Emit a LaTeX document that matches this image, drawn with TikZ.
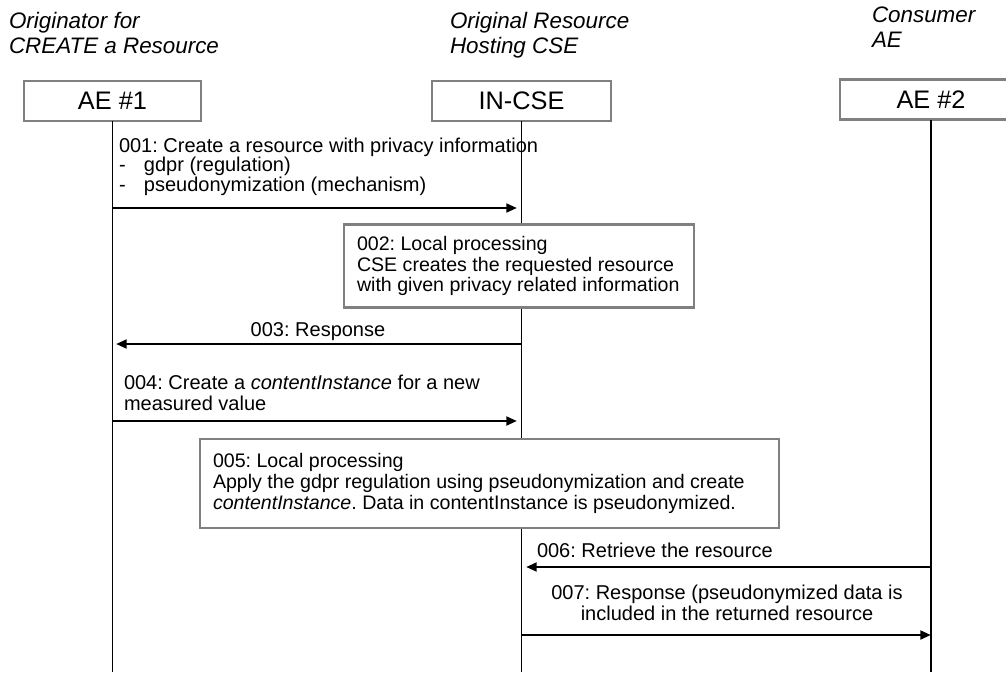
\documentclass[tikz,border=0pt]{standalone}
\usepackage{fontspec}
\setmainfont{Liberation Sans}
\usetikzlibrary{arrows.meta}
\definecolor{framegray}{RGB}{128,128,128}
\frenchspacing
\begin{document}
\begin{tikzpicture}[x=0.75pt,y=-0.75pt,
  every node/.style={inner sep=0pt, outer sep=0pt},
  role/.style={font=\fontsize{16.8}{18.75}\selectfont\itshape, align=left, anchor=base west},
  entity/.style={draw=framegray, line width=1.9pt, fill=white, minimum height=30pt,
    font=\fontsize{19}{22}\selectfont},
  lifeline/.style={draw=black, line width=0.8pt},
  msg/.style={draw=black, line width=2pt, -{Triangle[length=8pt,width=6.5pt]}},
  msgtext/.style={font=\fontsize{15}{15.4}\selectfont, align=left, anchor=base west},
  notebox/.style={draw=framegray, line width=1.9pt, fill=white},
  notetext/.style={font=\fontsize{14.7}{15.6}\selectfont, align=left, anchor=west}
]
\useasboundingbox (0,0) rectangle (1006,672);

% role captions above the participants (anchored at the last baseline)
\node[role] (capA) at (9,53) {Originator for\\CREATE a Resource};
\node[role] (capB) at (450,53) {Original Resource\\Hosting CSE};
\node[role] (capC) at (872,47) {Consumer\\AE};

% participants
\node[entity, minimum width=132.75pt] (ae1) at (112.5,101) {AE \#1};
\node[entity, minimum width=134.25pt] (cse) at (521.5,101) {IN-CSE};
\node[entity, minimum width=136.5pt] (ae2) at (931,99.5) {AE \#2};

% lifelines
\coordinate (ae1end) at (ae1.south |- 0,672);
\coordinate (cseend) at (cse.south |- 0,672);
\coordinate (ae2end) at (ae2.south |- 0,672);
\draw[lifeline] (ae1.south) -- (ae1end);
\draw[lifeline] (cse.south) -- (cseend);
\draw[lifeline] (ae2.south) -- (ae2end);

% 001
\node[msgtext, font=\fontsize{15}{14.6}\selectfont] (t001) at (119,191)
  {001: Create a resource with privacy information\\
   \makebox[18.75pt][l]{-}gdpr (regulation)\\
   \makebox[18.75pt][l]{-}pseudonymization (mechanism)};
\coordinate (m1s) at (113,208);
\coordinate (m1e) at (517,208);
\draw[msg] (m1s) -- (m1e);

% 002
\node[notebox, minimum width=262.5pt, minimum height=62pt] (b002) at (519,266) {};
\node[notetext] (t002) at ([xshift=9.75pt]b002.west)
  {002: Local processing\\
   CSE creates the requested resource\\
   with given privacy related information};

% 003
\node[msgtext, anchor=base] (t003) at (318,336) {003: Response};
\coordinate (m3s) at (522,344);
\coordinate (m3e) at (116,344);
\draw[msg] (m3s) -- (m3e);

% 004
\node[msgtext] (t004) at (124,410)
  {004: Create a \textit{contentInstance} for a new\\measured value};
\coordinate (m4s) at (113,421);
\coordinate (m4e) at (517,421);
\draw[msg] (m4s) -- (m4e);

% 005
\node[notebox, minimum width=434.25pt, minimum height=66.75pt] (b005) at (489.5,483.5) {};
\node[notetext] (t005) at ([xshift=9.75pt]b005.west)
  {005: Local processing\\
   Apply the gdpr regulation using pseudonymization and create\\
   \textit{contentInstance}. Data in contentInstance is pseudonymized.};

% 006
\node[msgtext] (t006) at (537,557) {006: Retrieve the resource};
\coordinate (m6s) at (931,567);
\coordinate (m6e) at (526,567);
\draw[msg] (m6s) -- (m6e);

% 007
\node[msgtext, align=center, anchor=base] (t007) at (727,620)
  {007: Response (pseudonymized data is\\included in the returned resource};
\coordinate (m7s) at (522,635);
\coordinate (m7e) at (931,635);
\draw[msg] (m7s) -- (m7e);
\end{tikzpicture}
\end{document}
